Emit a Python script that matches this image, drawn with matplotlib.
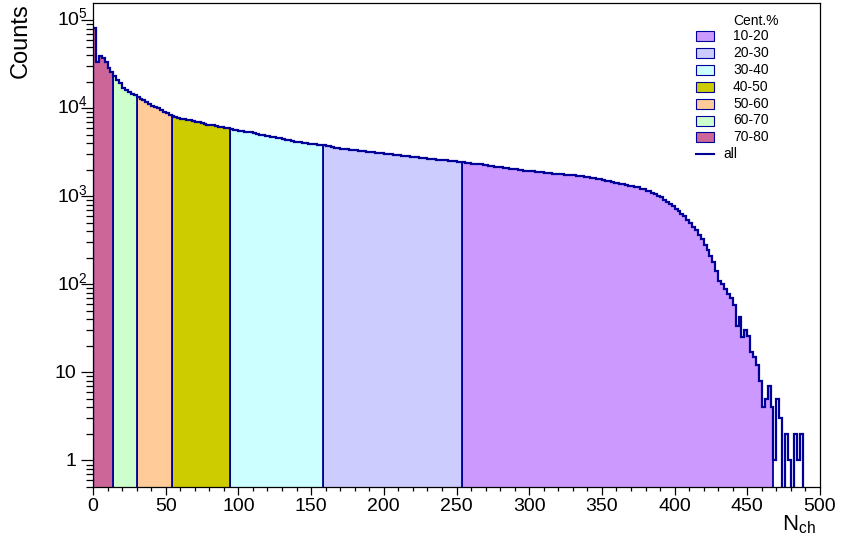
import numpy as np
import matplotlib
matplotlib.use('Agg')
import matplotlib.pyplot as plt
from matplotlib.patches import Rectangle
from matplotlib.lines import Line2D
import matplotlib.transforms as mtransforms
from matplotlib.ticker import MultipleLocator, FixedLocator, NullFormatter

plt.rcParams['font.family'] = 'Liberation Sans'
plt.rcParams['mathtext.fontset'] = 'custom'
plt.rcParams['mathtext.rm'] = 'Liberation Sans'
plt.rcParams['mathtext.it'] = 'Liberation Sans:italic'

# Nch histogram, bins of width 2 from 0 to 500
bin_edges = np.arange(0, 502, 2)
counts = np.array([
    80500, 33000, 39000, 37000, 33000, 28500, 25500, 23000, 21000, 19500,
    17000, 16000, 15200, 14600, 14000, 13300, 12800, 12300, 11700, 11200,
    10700, 10300, 9900, 9500, 9150, 8800, 8450, 8200, 7950, 7800,
    7600, 7480, 7350, 7250, 7080, 6950, 6880, 6720, 6620, 6500,
    6400, 6350, 6220, 6150, 6080, 5930, 5870, 5740, 5700, 5600,
    5530, 5500, 5420, 5370, 5300, 5200, 5130, 5010, 4950, 4870,
    4800, 4740, 4660, 4590, 4520, 4460, 4390, 4300, 4250, 4160,
    4130, 4090, 4050, 4000, 3960, 3930, 3870, 3850, 3800, 3770,
    3700, 3670, 3610, 3570, 3520, 3470, 3420, 3400, 3360, 3340,
    3310, 3290, 3250, 3230, 3190, 3180, 3140, 3130, 3090, 3070,
    3050, 3010, 3000, 2960, 2940, 2900, 2890, 2850, 2830, 2800,
    2790, 2750, 2740, 2720, 2690, 2670, 2640, 2630, 2600, 2590,
    2560, 2550, 2520, 2510, 2480, 2470, 2440, 2430, 2400, 2390,
    2350, 2340, 2310, 2300, 2260, 2250, 2210, 2200, 2170, 2150,
    2120, 2100, 2070, 2050, 2020, 2010, 1980, 1970, 1950, 1940,
    1920, 1910, 1890, 1880, 1860, 1850, 1830, 1830, 1810, 1800,
    1790, 1780, 1760, 1750, 1740, 1730, 1710, 1700, 1680, 1670,
    1640, 1630, 1600, 1580, 1550, 1530, 1500, 1480, 1450, 1430,
    1400, 1390, 1360, 1350, 1320, 1310, 1280, 1260, 1220, 1200,
    1160, 1140, 1090, 1060, 1000, 970, 910, 870, 810, 770,
    710, 680, 620, 590, 530, 500, 450, 410, 360, 330,
    280, 245, 210, 180, 140, 110, 100, 88, 78, 70,
    58, 34, 42, 25, 30, 26, 17, 15, 12, 8,
    4, 5, 7, 4, 1, 5, 3, 0, 2, 1,
    0, 2, 1, 2, 0, 0, 0, 0, 0, 0,
])

# centrality classes: Nch ranges
cent_labels = ['10-20', '20-30', '30-40', '40-50', '50-60', '60-70', '70-80']
cent_lo = [254, 158, 94, 54, 30, 14, 0]
cent_hi = [468, 254, 158, 94, 54, 30, 14]
cent_colors = ['#cc99ff', '#ccccff', '#ccffff', '#cccc00', '#ffcc99', '#ccffcc', '#cc6699']

line_col = '#000099'

fig = plt.figure(figsize=(8.43, 5.42), dpi=100)
ax = fig.add_axes([93/843, 1-487/542, 727/843, 484/542])
ax.set_yscale('log')

for lo, hi, c in zip(cent_lo, cent_hi, cent_colors):
    i0, i1 = lo // 2, hi // 2
    ax.stairs(counts[i0:i1], bin_edges[i0:i1+1], baseline=0.1, fill=True,
              facecolor=c, edgecolor=line_col, lw=1.3)

ax.stairs(np.where(counts > 0, counts, 0.1), bin_edges, baseline=0.1,
          color=line_col, lw=1.6)

ax.set_xlim(0, 500)
ax.set_ylim(0.5, 1.56e5)

# x axis
ax.xaxis.set_major_locator(MultipleLocator(50))
ax.xaxis.set_minor_locator(MultipleLocator(10))
ax.tick_params(axis='x', which='major', direction='out', length=5.8, width=0.9,
               labelsize=14, pad=2)
ax.tick_params(axis='x', which='minor', direction='out', length=2.9, width=0.9)
ax.tick_params(top=False, right=False)

# y axis, ROOT-like labels placed by hand
ytick_vals = [1, 10, 100, 1000, 1e4, 1e5]
ytick_labels = ['1', '10', '10$^{2}$', '10$^{3}$', '10$^{4}$', '10$^{5}$']
ax.yaxis.set_major_locator(FixedLocator(ytick_vals))
ax.yaxis.set_major_formatter(NullFormatter())
ax.yaxis.set_minor_formatter(NullFormatter())
ax.tick_params(axis='y', which='major', direction='out', length=8.6, width=0.9)
ax.tick_params(axis='y', which='minor', direction='out', length=5, width=0.9)

trans = mtransforms.blended_transform_factory(ax.transAxes, ax.transData)
trans = mtransforms.offset_copy(trans, fig=fig, y=-3.9, units='points')
for v, lab in zip(ytick_vals, ytick_labels):
    xr = -17/727 if v < 100 else -5/727
    ax.text(xr, v, lab, transform=trans, ha='right', va='baseline', fontsize=14)

for s in ax.spines.values():
    s.set_linewidth(0.9)

fig.text(21/843, 1-3/542, 'Counts', rotation=90, ha='center', va='top', fontsize=17)
fig.text(816/843, 1-530/542, r'N$_{\mathrm{ch}}$', ha='right', va='baseline', fontsize=16)

# legend
def fpos(x, y):
    return x/843, 1-y/542

fig.text(*fpos(733, 21), 'Cent.%', ha='left', va='center', fontsize=10)
row_y = 36
for lab, c in zip(cent_labels, cent_colors):
    x0, y0 = fpos(696, row_y + 5)
    fig.patches.append(Rectangle((x0, y0), 18/843, 10/542, transform=fig.transFigure,
                                 facecolor=c, edgecolor=line_col, lw=0.8))
    fig.text(*fpos(733, row_y), lab, ha='left', va='center', fontsize=10)
    row_y += 16.9
lx0, ly = fpos(696, row_y)
lx1, _ = fpos(714, row_y)
fig.lines.append(Line2D([lx0, lx1], [ly, ly], transform=fig.transFigure, color=line_col, lw=1.5))
fig.text(*fpos(723, row_y), 'all', ha='left', va='center', fontsize=10)

fig.savefig('out.png', dpi=100)
